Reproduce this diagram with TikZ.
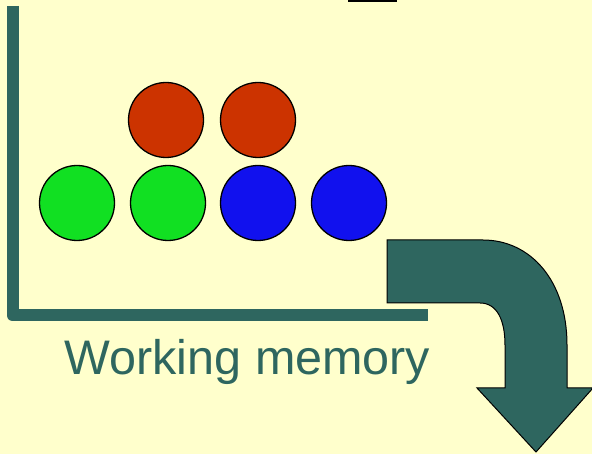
\documentclass[tikz,border=0pt]{standalone}
\usepackage{fontspec}
\setmainfont{Liberation Sans}
\definecolor{bg}{HTML}{FFFFCC}
\definecolor{teal}{HTML}{2E665F}
\definecolor{cred}{HTML}{CC3300}
\definecolor{cgreen}{HTML}{11E022}
\definecolor{cblue}{HTML}{1111EE}
\begin{document}
\begin{tikzpicture}[x=1pt,y=-1pt,
  ball/.style={circle,draw=black,line width=1.3pt,minimum size=75pt,inner sep=0pt},
  label/.style={text=teal,font=\fontsize{48.5}{48.5}\selectfont,inner sep=0pt,anchor=base west}]
\fill[bg] (0,0) rectangle (592,454);
\useasboundingbox (0,0) rectangle (592,454);
% fragment at top
\fill[black] (348,0) rectangle (397,1.8);
% bracket
\draw[teal,line width=12pt,line join=round] (12.5,6) -- (12.5,315.5) -- (428,315.5);
% balls
\node[ball,fill=cred] (r1) at (166,120) {};
\node[ball,fill=cred] (r2) at (258,120) {};
\node[ball,fill=cgreen] (g1) at (77,203) {};
\node[ball,fill=cgreen] (g2) at (168,203) {};
\node[ball,fill=cblue] (b1) at (258,203) {};
\node[ball,fill=cblue] (b2) at (349,203) {};
% label
\node[label] (wm) at (64.5,375) {Working memory};
% curved arrow
\draw[fill=teal,draw=black,line width=1pt,line join=miter]
  (387,240) -- (483,240)
  .. controls (530,240) and (567,280) .. (567,345)
  -- (567,388) -- (593,388) -- (536,452) -- (477,388) -- (505,388)
  -- (505,345)
  .. controls (505,320) and (497,303) .. (480,303)
  -- (387,303) -- cycle;
\end{tikzpicture}
\end{document}
